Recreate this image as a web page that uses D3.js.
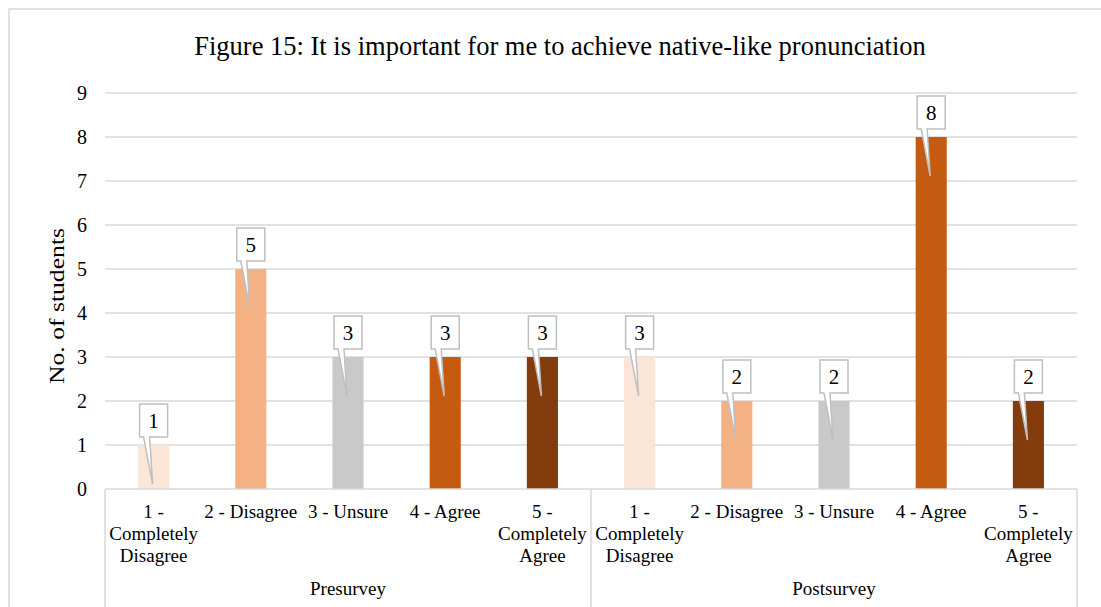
<!DOCTYPE html>
<html>
<head>
<meta charset="utf-8">
<script src="https://cdn.jsdelivr.net/npm/d3@7"></script>
<style>
  body { margin: 0; background: #fff; }
  svg text { font-family: "Liberation Serif", "Times New Roman", serif; fill: #000; }
</style>
</head>
<body>
<div id="chart"></div>
<script>
var width = 1101, height = 607;
var margin = {top: 93, right: 24, bottom: 118, left: 105};
var serif = "'Liberation Serif', 'Times New Roman', serif";

// data
var groups = ["Presurvey", "Postsurvey"];
var answers = ["1 - Completely Disagree", "2 - Disagree", "3 - Unsure", "4 - Agree", "5 - Completely Agree"];
var answerLines = [["1 -", "Completely", "Disagree"], ["2 - Disagree"], ["3 - Unsure"], ["4 - Agree"], ["5 -", "Completely", "Agree"]];
var presurvey = [1, 5, 3, 3, 3];
var postsurvey = [3, 2, 2, 8, 2];
var colors = ["#FBE5D6", "#F4B183", "#C9C9C9", "#C55A11", "#843C0C"];
var yTicks = [0, 1, 2, 3, 4, 5, 6, 7, 8, 9];

var rows = [];
groups.forEach(function(g, gi) {
  var vals = gi == 0 ? presurvey : postsurvey;
  answers.forEach(function(a, ai) {
    rows.push({key: g + "|" + a, group: g, idx: ai, value: vals[ai]});
  });
});

var svg = d3.select("#chart").append("svg")
  .attr("width", width)
  .attr("height", height);

// chart frame
svg.append("rect")
  .attr("x", 9).attr("y", 9)
  .attr("width", width).attr("height", height)
  .attr("fill", "none")
  .attr("stroke", "#d9d9d9")
  .attr("stroke-width", 1.5);

var x0 = margin.left, x1 = width - margin.right;
var y = d3.scaleLinear().domain([0, 9]).range([489, 93]);
var x = d3.scaleBand().domain(rows.map(function(d){ return d.key; }))
  .range([x0, x1]).paddingInner(0.68).paddingOuter(0.34);
var gx = d3.scaleBand().domain(groups).range([x0, x1]);

// title
svg.append("text")
  .attr("x", 560).attr("y", 55)
  .attr("text-anchor", "middle")
  .style("font-family", serif)
  .style("font-size", "26.5px")
  .text("Figure 15: It is important for me to achieve native-like pronunciation");

// gridlines
svg.append("g").selectAll("line")
  .data(yTicks.slice(1))
  .enter().append("line")
  .attr("x1", x0).attr("x2", x1)
  .attr("y1", function(d){ return y(d); })
  .attr("y2", function(d){ return y(d); })
  .attr("stroke", "#d9d9d9")
  .attr("stroke-width", 1.5);

// y axis labels
var yAxis = d3.axisLeft(y).tickValues(yTicks).tickSize(0).tickPadding(18);
var ya = svg.append("g").attr("transform", "translate(" + x0 + ",0)").call(yAxis);
ya.select(".domain").remove();
ya.attr("font-family", null).attr("font-size", null);
ya.selectAll("text").style("font-size", "20px").style("font-family", serif).attr("fill", "#000");

svg.append("text")
  .attr("transform", "translate(64,306) rotate(-90)")
  .attr("text-anchor", "middle")
  .attr("textLength", 156)
  .attr("lengthAdjust", "spacingAndGlyphs")
  .style("font-family", serif)
  .style("font-size", "20px")
  .text("No. of students");

// bars
svg.append("g").selectAll("rect")
  .data(rows)
  .enter().append("rect")
  .attr("x", function(d){ return x(d.key); })
  .attr("y", function(d){ return y(d.value); })
  .attr("width", x.bandwidth())
  .attr("height", function(d){ return y(0) - y(d.value); })
  .attr("fill", function(d){ return colors[d.idx]; });

// category axis box
var axisG = svg.append("g").attr("stroke", "#d9d9d9").attr("stroke-width", 1.5);
axisG.append("line").attr("x1", x0).attr("x2", x1).attr("y1", y(0)).attr("y2", y(0));
[x0, gx("Postsurvey"), x1].forEach(function(v) {
  axisG.append("line").attr("x1", v).attr("x2", v).attr("y1", y(0)).attr("y2", height);
});

// category labels
var catG = svg.append("g").selectAll("text")
  .data(rows)
  .enter().append("text")
  .attr("text-anchor", "middle")
  .style("font-family", serif)
  .style("font-size", "19px")
  .attr("x", function(d){ return x(d.key) + x.bandwidth() / 2; })
  .attr("y", 518);
catG.selectAll("tspan")
  .data(function(d){ return answerLines[d.idx].map(function(t){ return {t: t, cx: x(d.key) + x.bandwidth() / 2}; }); })
  .enter().append("tspan")
  .attr("x", function(d){ return d.cx; })
  .attr("dy", function(d, i){ return i == 0 ? 0 : 22; })
  .text(function(d){ return d.t; });

svg.append("g").selectAll("text")
  .data(groups)
  .enter().append("text")
  .attr("text-anchor", "middle")
  .style("font-family", serif)
  .style("font-size", "19px")
  .attr("x", function(d){ return gx(d) + gx.bandwidth() / 2; })
  .attr("y", 595)
  .text(function(d){ return d; });

// callout labels
var callout = svg.append("g").selectAll("g")
  .data(rows)
  .enter().append("g")
  .attr("transform", function(d){
    return "translate(" + (x(d.key) + x.bandwidth() / 2) + "," + y(d.value) + ")";
  });

callout.append("path")
  .attr("d", "M-14,-8 L-10,-8 L-1,39 L-4,-8 L14,-8 L14,-41 L-14,-41 Z")
  .attr("fill", "#fff")
  .attr("stroke", "#bfbfbf")
  .attr("stroke-width", 1.5)
  .attr("stroke-linejoin", "miter");

callout.append("text")
  .attr("text-anchor", "middle")
  .attr("y", -17)
  .style("font-family", serif)
  .style("font-size", "21px")
  .text(function(d){ return d.value; });
</script>
</body>
</html>
